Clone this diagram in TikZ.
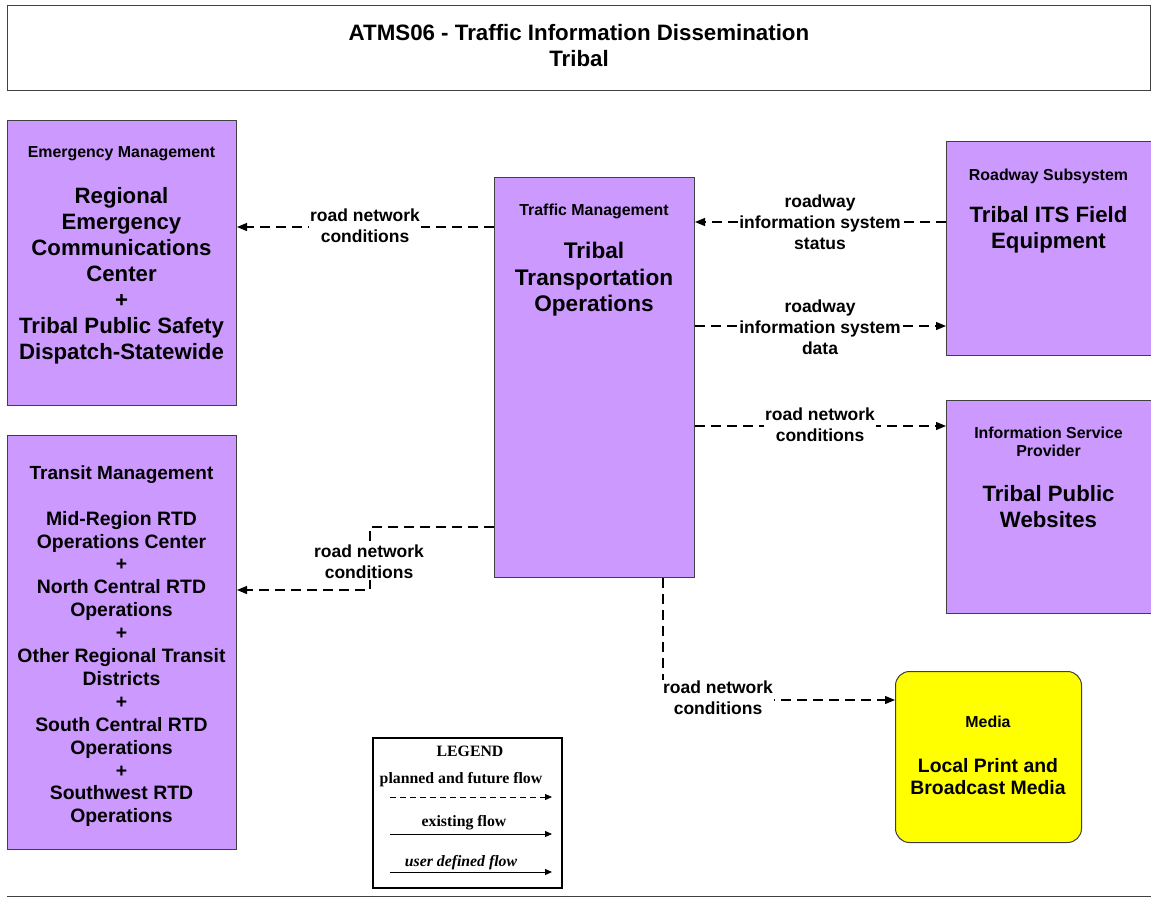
\documentclass[tikz,border=0pt]{standalone}
\usepackage{fontspec}
\setmainfont{Liberation Sans}
\newfontfamily\legfont{Liberation Serif}
\usetikzlibrary{arrows.meta}
\definecolor{boxpurple}{HTML}{CC99FF}
\definecolor{mediayellow}{HTML}{FFFF00}
\definecolor{edgegray}{HTML}{404040}
\begin{document}
\begin{tikzpicture}[x=1pt,y=-1pt,
  box/.style={draw=edgegray, line width=1pt, fill=boxpurple, inner sep=0pt, anchor=north west},
  hdr/.style={font=\bfseries\fontsize{15.9}{18}\selectfont, align=center, inner sep=0pt},
  sysname/.style={font=\bfseries\fontsize{22.2}{26}\selectfont, align=center, inner sep=0pt},
  lbl/.style={font=\bfseries\fontsize{17.5}{21}\selectfont, align=center, fill=white, inner sep=1.5pt},
  flow/.style={dash pattern=on 10pt off 6pt, line width=1.2pt, -{Triangle[length=10pt,width=8pt]}},
  legtext/.style={font=\legfont\bfseries\fontsize{15.8}{18}\selectfont, inner sep=0pt},
  legline/.style={line width=1pt, -{Triangle[length=7pt,width=6pt]}},
]
\useasboundingbox (0,0) rectangle (1151,897);
\fill[white] (0,0) rectangle (1151,897);

% title
\node[draw=edgegray, line width=1pt, minimum width=1143, minimum height=85, anchor=north west, inner sep=0pt] (title) at (7,5) {};
\node[font=\bfseries\fontsize{22.3}{26}\selectfont, align=center, inner sep=0pt] (titletext) at (579,46) {ATMS06 - Traffic Information Dissemination\\Tribal};
\draw[edgegray, line width=1pt] (7,896) -- (1151,896);

% boxes
\node[box, minimum width=229, minimum height=285] (em) at (7,120) {};
\node[box, minimum width=229, minimum height=414] (tm) at (7,435) {};
\node[box, minimum width=200, minimum height=400] (tto) at (494,177) {};
\node[box, minimum width=206, minimum height=214] (rs) at (946,141) {};
\node[box, minimum width=206, minimum height=213] (isp) at (946,400) {};
\node[box, fill=mediayellow, rounded corners=14pt, minimum width=186, minimum height=171] (media) at (895,671) {};
\node[draw=black, line width=1.5pt, minimum width=189, minimum height=150, anchor=north west, inner sep=0pt] (legend) at (372,737) {};

% box texts
\node[hdr] (emh) at (121.5,154) {Emergency Management};
\node[sysname] (emn) at (121.5,276) {Regional\\Emergency\\Communications\\Center\\+\\Tribal Public Safety\\Dispatch-Statewide};
\node[hdr, font=\bfseries\fontsize{19}{21}\selectfont] (tmh) at (121.5,475) {Transit Management};
\node[sysname, font=\bfseries\fontsize{19.4}{22.9}\selectfont] (tmn) at (121.5,669) {Mid-Region RTD\\Operations Center\\+\\North Central RTD\\Operations\\+\\Other Regional Transit\\Districts\\+\\South Central RTD\\Operations\\+\\Southwest RTD\\Operations};
\node[hdr] (ttoh) at (594,211) {Traffic Management};
\node[sysname, font=\bfseries\fontsize{22.6}{26.5}\selectfont] (tton) at (594,279.5) {Tribal\\Transportation\\Operations};
\node[hdr] (rsh) at (1048.5,176) {Roadway Subsystem};
\node[sysname] (rsn) at (1048.5,230) {Tribal ITS Field\\Equipment};
\node[hdr] (isph) at (1048.5,442) {Information Service\\Provider};
\node[sysname] (ispn) at (1048.5,507) {Tribal Public\\Websites};
\node[hdr] (mh) at (988,722) {Media};
\node[sysname, font=\bfseries\fontsize{19.4}{22}\selectfont] (mn) at (988,777) {Local Print and\\Broadcast Media};

% connectors
\coordinate (c1) at (0,227);
\coordinate (c2) at (0,222);
\coordinate (c3) at (0,326);
\coordinate (c4) at (0,426);
\coordinate (c5a) at (370,527);
\coordinate (c5b) at (370,590);
\coordinate (c6a) at (663,700);
\draw[flow] (tto.west |- c1) -- (em.east |- c1);
\draw[flow] (rs.west |- c2) -- (tto.east |- c2);
\draw[flow] (tto.east |- c3) -- (rs.west |- c3);
\draw[flow] (tto.east |- c4) -- (isp.west |- c4);
\draw[flow] (tto.west |- c5a) -- (c5a) -- (c5b) -- (tm.east |- c5b);
\draw[flow] (tto.south -| c6a) -- (c6a) -- (media.west |- c6a);

% labels
\node[lbl] (l1) at (365,226) {road network\\conditions};
\node[lbl, inner sep=0.3pt] (l2) at (820,222) {roadway\\information system\\status};
\node[lbl, inner sep=0.3pt] (l3) at (820,327) {roadway\\information system\\data};
\node[lbl] (l4) at (820,425) {road network\\conditions};
\node[lbl] (l5) at (369,562) {road network\\conditions};
\node[lbl] (l6) at (718,698) {road network\\conditions};

% legend
\node[legtext] (legt) at (470,751) {LEGEND};
\node[legtext] (lg1) at (461,780) {planned and future flow};
\coordinate (lg1a) at (390,797);
\coordinate (lg1b) at (552,797);
\draw[legline, dash pattern=on 6pt off 4pt] (lg1a) -- (lg1b);
\node[legtext] (lg2) at (464,823) {existing flow};
\coordinate (lg2a) at (390,834);
\coordinate (lg2b) at (552,834);
\draw[legline] (lg2a) -- (lg2b);
\node[legtext, font=\legfont\bfseries\itshape\fontsize{15.8}{18}\selectfont] (lg3) at (461,863) {user defined flow};
\coordinate (lg3a) at (390,872);
\coordinate (lg3b) at (552,872);
\draw[legline] (lg3a) -- (lg3b);
\end{tikzpicture}
\end{document}
